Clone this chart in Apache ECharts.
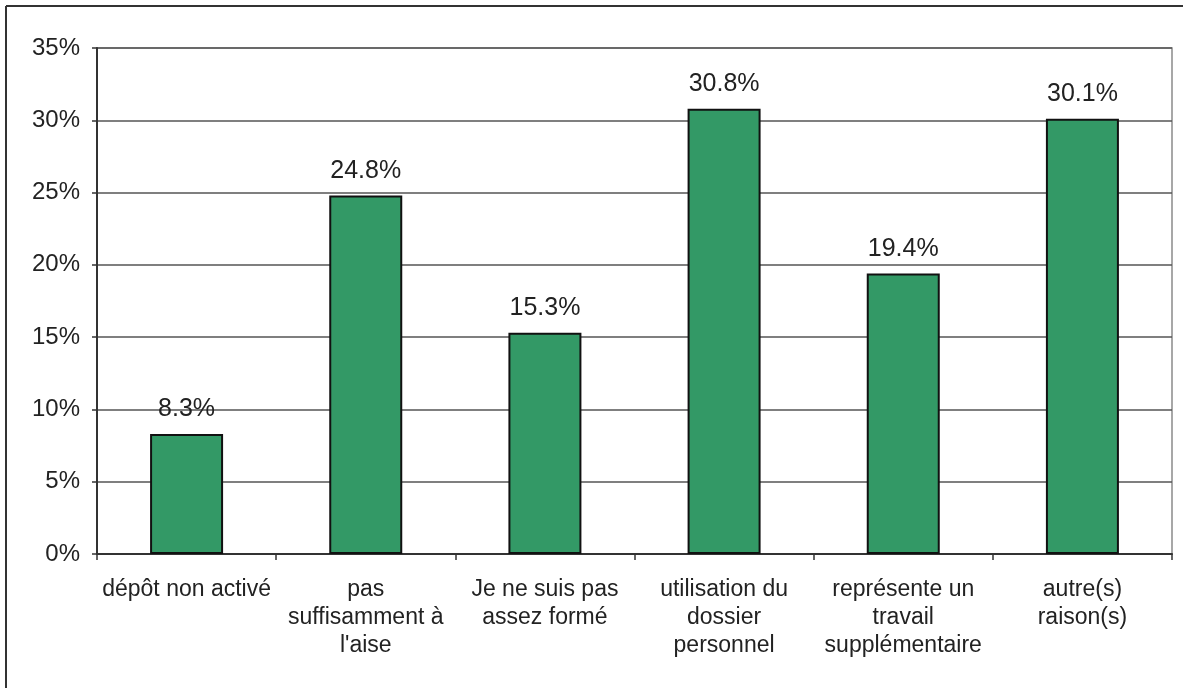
<!DOCTYPE html>
<html><head><meta charset="utf-8">
<script src="https://cdn.jsdelivr.net/npm/echarts@6/dist/echarts.min.js"></script>
<style>html,body{margin:0;padding:0;background:#fff}#c{width:1192px;height:688px}</style>
</head><body><div id="c"></div>
<script>
const categories = ["dépôt non activé", "pas\nsuffisamment à\nl'aise", "Je ne suis pas\nassez formé", "utilisation du\ndossier\npersonnel", "représente un\ntravail\nsupplémentaire", "autre(s)\nraison(s)"];
const values = [8.3, 24.8, 15.3, 30.8, 19.4, 30.1];
const yTicks = [0, 5, 10, 15, 20, 25, 30, 35];

const chart = echarts.init(document.getElementById('c'), null, {renderer: 'canvas'});
const font = 'Liberation Sans, Arial, sans-serif';
chart.setOption({
  animation: false,
  backgroundColor: '#fff',
  grid: {left: 97, top: 48, right: 20, bottom: 134, show: true, borderColor: '#8a8a8a', borderWidth: 1.5, backgroundColor: 'transparent'},
  graphic: [
    {type: 'line', shape: {x1: 6, y1: 6, x2: 1183, y2: 6}, style: {stroke: '#333', lineWidth: 2}},
    {type: 'line', shape: {x1: 6, y1: 6, x2: 6, y2: 688}, style: {stroke: '#333', lineWidth: 2}}
  ],
  xAxis: {
    type: 'category', data: categories,
    axisLine: {show: true, lineStyle: {color: '#333', width: 2}},
    axisTick: {show: true, alignWithLabel: false, length: 6, lineStyle: {color: '#333', width: 1.5}},
    axisLabel: {interval: 0, margin: 22, fontSize: 23, fontFamily: font, color: '#222', lineHeight: 28}
  },
  yAxis: {
    type: 'value', min: yTicks[0], max: yTicks[yTicks.length - 1], interval: 5,
    axisLine: {show: true, lineStyle: {color: '#333', width: 2}},
    axisTick: {show: true, length: 5, lineStyle: {color: '#333', width: 1.5}},
    splitLine: {show: true, lineStyle: {color: '#555', width: 1.5}},
    axisLabel: {margin: 17, fontSize: 24, fontFamily: font, color: '#222', formatter: v => v + '%'}
  },
  series: [{
    type: 'bar', data: values, barWidth: 73,
    itemStyle: {color: '#339966', borderColor: '#111', borderWidth: 2},
    label: {show: true, position: 'top', distance: 12, fontSize: 25, fontFamily: font, color: '#222', formatter: p => p.value.toFixed(1) + '%'}
  }]
});
</script></body></html>
